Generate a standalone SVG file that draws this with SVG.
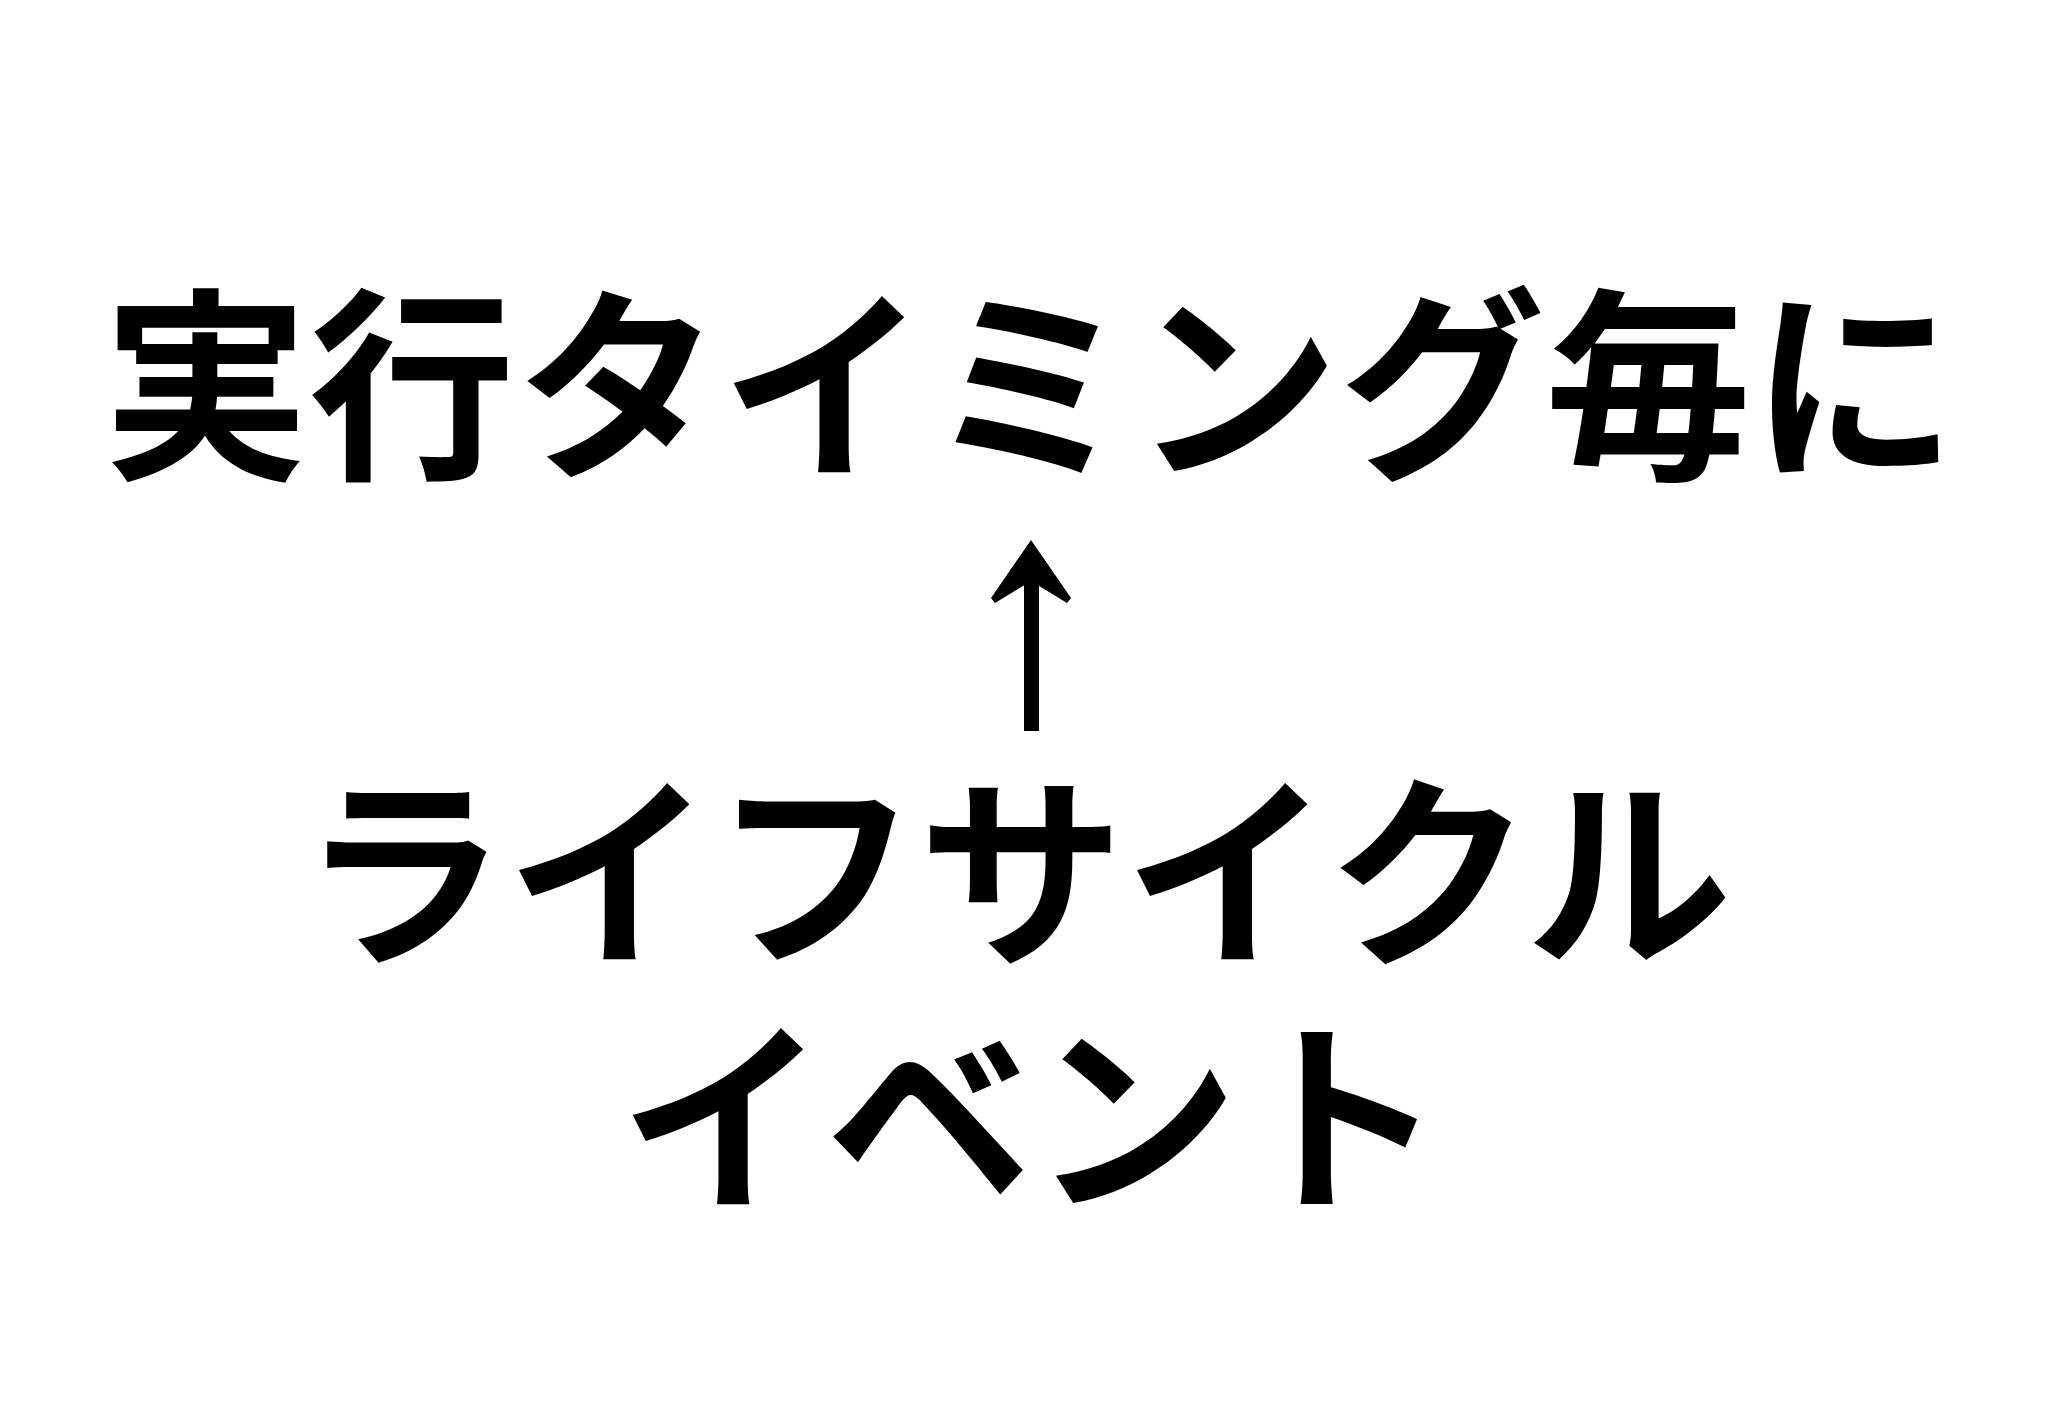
<svg xmlns="http://www.w3.org/2000/svg" width="2048" height="1418" viewBox="0 0 2048 1418">
<style>
.t{font-family:"Noto Sans CJK JP","Noto Sans CJK SC",sans-serif;font-weight:700;font-size:206px;fill:#000;text-anchor:middle}
</style>
<rect x="0" y="0" width="2048" height="1418" fill="#fff"/>
<g id="node-top"><text class="t" x="1030" y="463">実行タイミング毎に</text></g>
<g id="node-bottom"><text class="t"><tspan x="1016" y="950">ライフサイクル</tspan><tspan x="1032" y="1195">イベント</tspan></text></g>
<g id="connectors">
<rect x="1024" y="578" width="15" height="153" fill="#000"/>
<polygon points="1031,540 1071,598 1067,603 1031,581 995,603 991,598" fill="#000"/>
</g>
</svg>
